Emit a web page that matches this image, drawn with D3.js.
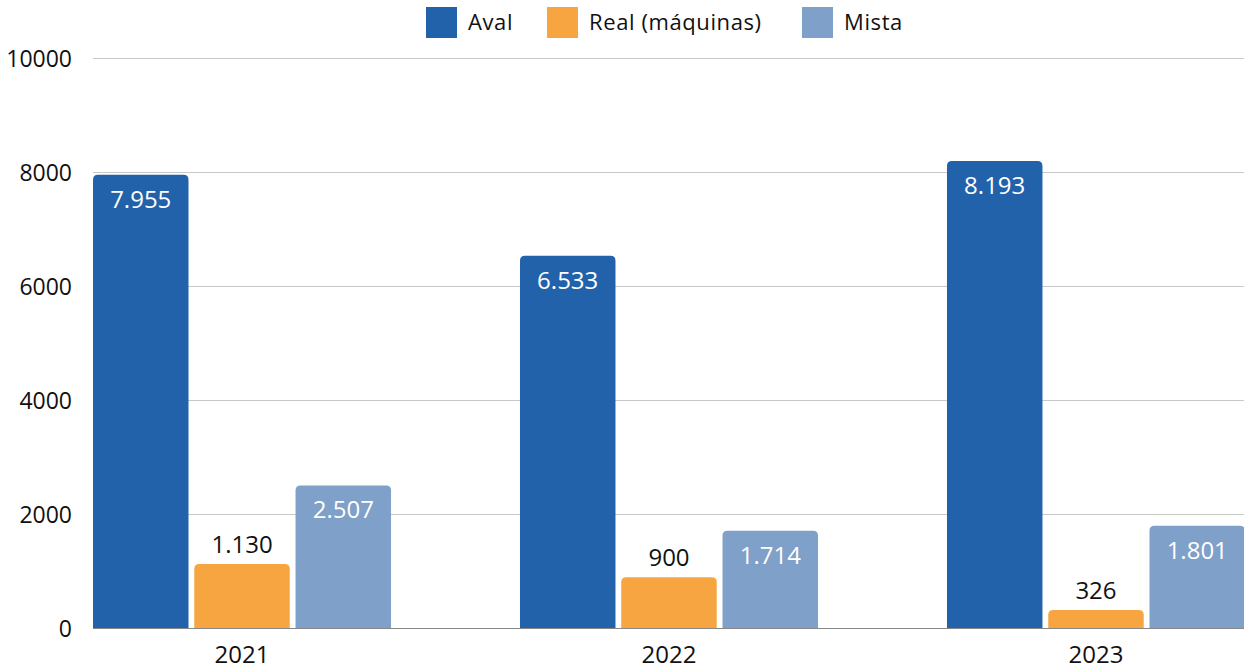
<!DOCTYPE html>
<html><head><meta charset="utf-8">
<script src="https://cdn.jsdelivr.net/npm/d3@7"></script>
<style>body{margin:0;background:#fff}svg{display:block;font-family:"Open Sans",Lato,sans-serif}</style>
</head><body><svg id="c" width="1244" height="668"></svg>
<script>
const categories = ["2021", "2022", "2023"];
const seriesNames = ["Aval", "Real (máquinas)", "Mista"];
const aval = [7955, 6533, 8193];
const real = [1130, 900, 326];
const mista = [2507, 1714, 1801];
const yTicks = [0, 2000, 4000, 6000, 8000, 10000];
const colors = ["#2262ab", "#f7a541", "#7fa0c8"];
const labelInside = [true, false, true];

(function () {
const series = [aval, real, mista];
const svg = d3.select("#c");
const loc = d3.formatLocale({decimal: ",", thousands: ".", grouping: [3], currency: ["", ""]});
const fmt = loc.format(",d");
const FONT = "'Open Sans',sans-serif";

const mLeft = 93, mRight = 1244, mTop = 58, mBottom = 628.5;
const y = d3.scaleLinear().domain([0, 10000]).range([mBottom, mTop]);
const x0 = d3.scaleBand().domain(categories).range([mLeft, 1245]).paddingInner(0.302).paddingOuter(0);
const x1 = d3.scaleBand().domain(d3.range(3)).range([0, x0.bandwidth()]).paddingInner(0.057).paddingOuter(0);

// grid
svg.append("g").selectAll("line").data(yTicks.filter(d => d > 0)).join("line")
  .attr("x1", mLeft).attr("x2", mRight).attr("y1", d => Math.round(y(d)) + 0.5).attr("y2", d => Math.round(y(d)) + 0.5)
  .attr("stroke", "#c8c8c8").attr("stroke-width", 1);

// y axis labels
const yAxis = d3.axisLeft(y).tickValues(yTicks).tickSize(0).tickPadding(0).tickFormat(d3.format("d"));
const ya = svg.append("g").attr("transform", `translate(72,0)`).call(yAxis);
ya.select(".domain").remove();
ya.selectAll("text").attr("font-size", 23).attr("fill", "#111").attr("font-family", FONT).attr("dy", "0.35em");

// bars
const r = 5;
function barPath(x, yTop, w, yBot) {
  const rr = Math.min(r, (yBot - yTop));
  return `M${x},${yBot}V${yTop + rr}Q${x},${yTop} ${x + rr},${yTop}H${x + w - rr}Q${x + w},${yTop} ${x + w},${yTop + rr}V${yBot}Z`;
}
categories.forEach((c, ci) => {
  const g = svg.append("g").attr("transform", `translate(${x0(c)},0)`);
  series.forEach((s, si) => {
    const v = s[ci];
    const bx = x1(si), bw = x1.bandwidth(), yt = y(v);
    g.append("path").attr("d", barPath(bx, yt, bw, mBottom)).attr("fill", colors[si]);
    g.append("text").attr("x", bx + bw / 2)
      .attr("y", labelInside[si] ? yt + 33 : yt - 11)
      .attr("text-anchor", "middle").attr("font-size", 24)
      .attr("fill", labelInside[si] ? "#fff" : "#111")
      .text(fmt(v));
  });
});

// x axis
const xAxis = d3.axisBottom(x0).tickSize(0).tickPadding(0);
const xa = svg.append("g").attr("transform", `translate(0,${mBottom})`).call(xAxis);
xa.select(".domain").remove();
xa.selectAll("text").attr("font-size", 24).attr("fill", "#111").attr("font-family", FONT).attr("dy", 0).attr("y", 34);
svg.append("line").attr("x1", mLeft).attr("x2", mRight).attr("y1", mBottom).attr("y2", mBottom).attr("stroke", "#888").attr("stroke-width", 1);

// legend
const legX = [426, 547, 802];
const lg = svg.append("g");
seriesNames.forEach((n, i) => {
  lg.append("rect").attr("x", legX[i]).attr("y", 7).attr("width", 31).attr("height", 31).attr("fill", colors[i]);
  lg.append("text").attr("x", legX[i] + 42).attr("y", 30).attr("font-size", 22).attr("letter-spacing", 0.6).attr("fill", "#111").text(n);
});
})();
</script></body></html>
